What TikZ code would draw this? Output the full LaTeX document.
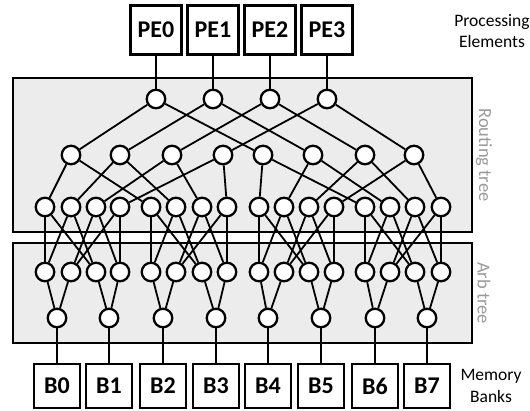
\documentclass[tikz,border=0pt]{standalone}
\usepackage{fontspec}
\setmainfont{Carlito}
\definecolor{panelgray}{HTML}{ECECEC}
\definecolor{labelgray}{HTML}{9A9A9A}
\begin{document}
\begin{tikzpicture}[x=1pt,y=-1pt,
  rnode/.style={circle,draw,fill=white,line width=2.3pt,minimum size=18.5pt,inner sep=0pt},
  pebox/.style={draw,line width=2.3pt,minimum width=51pt,minimum height=49pt,inner sep=0pt,font=\fontsize{24}{28}\selectfont\bfseries},
  bankbox/.style={draw,line width=2.3pt,minimum width=46pt,minimum height=44pt,inner sep=0pt,font=\fontsize{24}{28}\selectfont\bfseries},
  wire/.style={line width=1.8pt},
  panel/.style={draw,line width=1.6pt,fill=panelgray},
  sidelabel/.style={font=\fontsize{18.5}{21}\selectfont,text=labelgray,rotate=-90},
  caption/.style={font=\fontsize{17.5}{21.5}\selectfont,align=center}]
\useasboundingbox (0,0) rectangle (530,410);
% panels
\draw[panel] (13,78) rectangle (472,232);
\draw[panel] (13,243) rectangle (472,343);
\node[sidelabel] (rt) at (484,155) {Routing tree};
\node[sidelabel] (at) at (484,293) {Arb tree};
% PEs
\foreach \x [count=\i from 0] in {156,213,270,327} {
  \node[pebox] (pe\i) at (\x,30) {PE\i};
  \node[rnode] (p\i) at (\x,99) {};
}
\node[caption] (pecap) at (492,31) {Processing\\Elements};
% level 1
\foreach \x [count=\i from 0] in {71,120,172,223,263,313,365,414}
  \node[rnode] (q\i) at (\x,155) {};
% level 2 and arb level 1
\foreach \x [count=\i from 0] in {45,71,96,120,151,176,202,227,259,284,309,334,365,390,415,441} {
  \node[rnode] (r\i) at (\x,207) {};
  \node[rnode] (s\i) at (\x,272) {};
}
% arb level 2 and banks
\foreach \x [count=\i from 0] in {57,109,163,216,268,321,375,427} {
  \node[rnode] (t\i) at (\x,318) {};
  \node[bankbox] (b\i) at (\x,386) {B\i};
}
\node[caption] (bcap) at (491,386) {Memory\\Banks};
% wires
\foreach \i in {0,...,3} {
  \pgfmathtruncatemacro\a{\i+4}
  \draw[wire] (pe\i) -- (p\i);
  \draw[wire] (p\i) -- (q\i);
  \draw[wire] (p\i) -- (q\a);
}
\foreach \j in {0,...,7} {
  \pgfmathtruncatemacro\h{div(\j,4)}
  \pgfmathtruncatemacro\k{mod(\j,4)}
  \pgfmathtruncatemacro\s{8*\h+\k}
  \pgfmathtruncatemacro\t{8*\h+4+\k}
  \draw[wire] (q\j) -- (r\s);
  \draw[wire] (q\j) -- (r\t);
}
\foreach \g in {0,...,3} {
  \foreach \u/\v in {0/0,0/2,1/0,1/2,2/1,2/3,3/1,3/3} {
    \pgfmathtruncatemacro\uu{4*\g+\u}
    \pgfmathtruncatemacro\vv{4*\g+\v}
    \draw[wire] (r\uu) -- (s\vv);
  }
}
\foreach \m in {0,...,7} {
  \pgfmathtruncatemacro\c{2*\m}
  \pgfmathtruncatemacro\d{2*\m+1}
  \draw[wire] (s\c) -- (t\m);
  \draw[wire] (s\d) -- (t\m);
  \draw[wire] (t\m) -- (b\m);
}
\end{tikzpicture}
\end{document}
